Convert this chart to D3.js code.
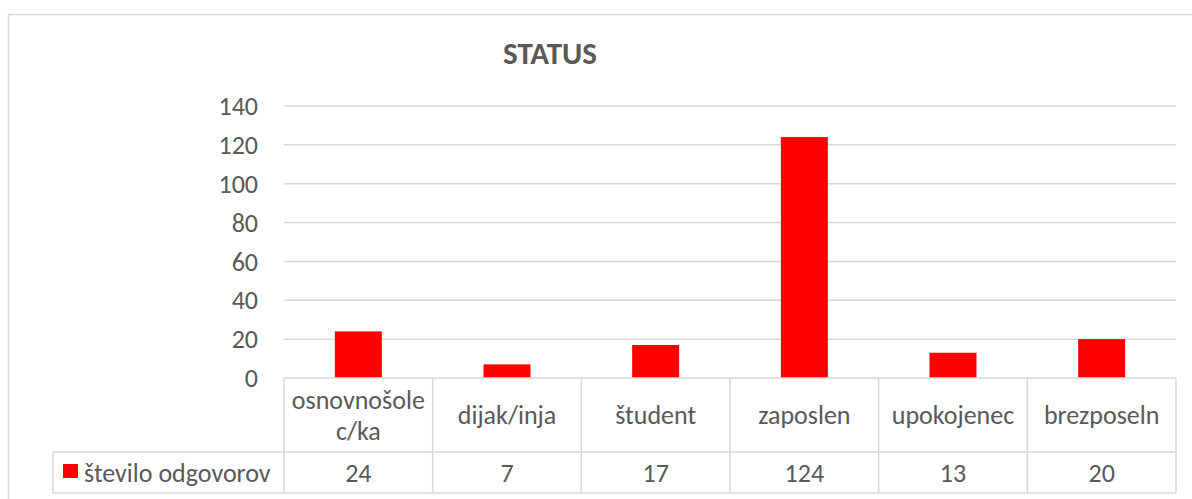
<!DOCTYPE html>
<html>
<head>
<meta charset="utf-8">
<title>STATUS</title>
<style>
  body { margin: 0; background: #fff; }
  text { font-family: Calibri, Carlito, "Open Sans", sans-serif; fill: #595959; }
</style>
</head>
<body>
<svg width="1192" height="499"></svg>
<script src="https://d3js.org/d3.v7.min.js"></script>
<script>
// data
var categories = ['osnovnošolec/ka', 'dijak/inja', 'študent', 'zaposlen', 'upokojenec', 'brezposeln'];
var labelLines = [['osnovnošole', 'c/ka'], ['dijak/inja'], ['študent'], ['zaposlen'], ['upokojenec'], ['brezposeln']];
var values = [24, 7, 17, 124, 13, 20];
var seriesName = 'število odgovorov';
var yTicks = [0, 20, 40, 60, 80, 100, 120, 140];

var svg = d3.select('svg');
var grid = '#d9d9d9';
var fs = '26px';

// chart frame
svg.append('rect')
  .attr('x', 8.5).attr('y', 14.5)
  .attr('width', 1200).attr('height', 500)
  .style('fill', 'none').style('stroke', grid).style('stroke-width', 1.5);

var pLeft = 284, pRight = 1176, pTop = 106, pBottom = 378;
var row1 = 452, row2 = 493, legLeft = 53;

var x = d3.scaleBand().domain(categories).range([pLeft, pRight])
  .paddingInner(0.684).paddingOuter(0.342);
var xc = d3.scaleBand().domain(categories).range([pLeft, pRight]);
var y = d3.scaleLinear().domain([0, 140]).range([pBottom, pTop]);

// title
svg.append('text').text('STATUS')
  .attr('x', 550).attr('y', 64)
  .attr('text-anchor', 'middle')
  .style('font-size', '31px').style('font-weight', 'bold');

// gridlines
svg.selectAll('.grid').data(yTicks.filter(function(d){ return d > 0; }))
  .enter().append('line')
  .attr('x1', pLeft).attr('x2', pRight)
  .attr('y1', function(d){ return y(d); }).attr('y2', function(d){ return y(d); })
  .style('stroke', grid).style('stroke-width', 1.5);

// y labels
svg.selectAll('.ylab').data(yTicks).enter().append('text')
  .text(function(d){ return d; })
  .attr('x', 258).attr('y', function(d){ return y(d); })
  .attr('dy', '0.35em').attr('text-anchor', 'end')
  .style('font-size', fs);

// bars
svg.selectAll('.bar').data(values).enter().append('rect')
  .attr('x', function(d, i){ return x(categories[i]); })
  .attr('width', x.bandwidth())
  .attr('y', function(d){ return y(d); })
  .attr('height', function(d){ return y(0) - y(d); })
  .style('fill', '#ff0000');

// data table
var tbl = svg.append('g').style('stroke', grid).style('stroke-width', 1.5).style('fill', 'none');
tbl.append('line').attr('x1', pLeft).attr('x2', pRight).attr('y1', pBottom).attr('y2', pBottom);
tbl.append('line').attr('x1', legLeft).attr('x2', pRight).attr('y1', row1).attr('y2', row1);
tbl.append('line').attr('x1', legLeft).attr('x2', pRight).attr('y1', row2).attr('y2', row2);
tbl.append('line').attr('x1', legLeft).attr('x2', legLeft).attr('y1', row1).attr('y2', row2);
tbl.selectAll('.vl').data(categories.concat(['end'])).enter().append('line')
  .attr('x1', function(d, i){ return pLeft + i * xc.step(); })
  .attr('x2', function(d, i){ return pLeft + i * xc.step(); })
  .attr('y1', pBottom).attr('y2', row2);

// category labels
svg.selectAll('.cat').data(labelLines).enter().append('text')
  .attr('text-anchor', 'middle')
  .attr('x', function(d, i){ return xc(categories[i]) + xc.bandwidth() / 2; })
  .attr('y', function(d){ return (pBottom + row1) / 2 - (d.length - 1) * 15.5; })
  .style('font-size', fs)
  .each(function(d){
    var t = d3.select(this), cx = t.attr('x');
    d.forEach(function(s, k){
      t.append('tspan').text(s).attr('x', cx).attr('dy', k === 0 ? '0.35em' : 31);
    });
  });

// values row
svg.selectAll('.val').data(values).enter().append('text')
  .text(function(d){ return d; })
  .attr('text-anchor', 'middle')
  .attr('x', function(d, i){ return xc(categories[i]) + xc.bandwidth() / 2; })
  .attr('y', (row1 + row2) / 2).attr('dy', '0.35em')
  .style('font-size', fs);

// legend key
svg.append('rect').attr('x', 63).attr('y', 464).attr('width', 15).attr('height', 14).style('fill', '#ff0000');
svg.append('text').text(seriesName)
  .attr('x', 84).attr('y', (row1 + row2) / 2).attr('dy', '0.35em')
  .style('font-size', fs);
</script>
</body>
</html>
